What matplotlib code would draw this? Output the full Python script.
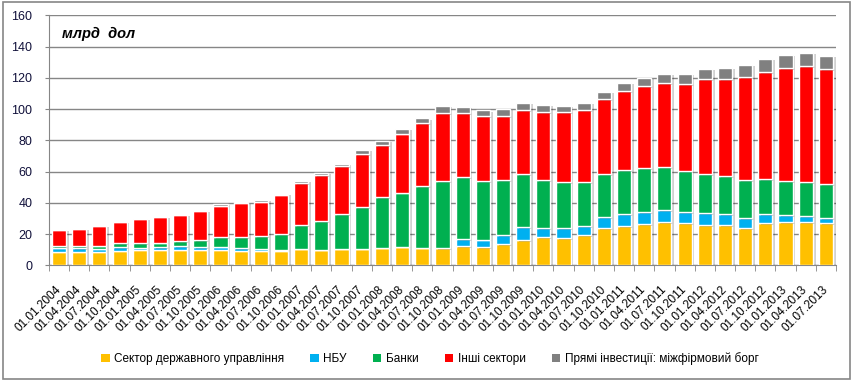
import numpy as np
import matplotlib.pyplot as plt
import matplotlib.patheffects as pe
from matplotlib.patches import Rectangle

plt.rcParams['font.family'] = ['Liberation Sans', 'DejaVu Sans']

COLOR_GOV = '#ffc000'
COLOR_NBU = '#00b0f0'
COLOR_BANKS = '#00b050'
COLOR_OTHER = '#ff0000'
COLOR_FDI = '#808080'
COLOR_GRID = '#868686'

dates = [f'01.{m}.{y}' for y in range(2004, 2014) for m in ('01', '04', '07', '10')][:39]

gov = [8.7, 8.7, 8.7, 9.4, 10.0, 10.0, 10.0, 10.0, 10.0, 9.4, 9.4, 9.4, 10.7, 10.0, 10.7, 10.7,
       11.3, 11.9, 11.3, 10.9, 12.2, 11.5, 13.4, 16.0, 17.9, 17.3, 19.2, 23.7, 25.0, 26.2, 27.5,
       26.9, 25.6, 25.6, 23.7, 26.9, 27.5, 27.5, 26.9]
nbu = [2.4, 2.2, 2.0, 2.1, 1.3, 1.5, 2.2, 1.5, 1.7, 1.5, 1.3, 0.6, 0, 0, 0, 0,
       0, 0, 0, 0, 4.4, 4.7, 5.8, 8.3, 5.8, 6.4, 5.8, 7.0, 7.6, 7.7, 7.7,
       7.0, 7.7, 7.0, 6.4, 5.7, 4.5, 3.9, 3.2]
banks = [1.1, 1.3, 1.9, 2.6, 2.8, 3.0, 3.2, 4.5, 6.2, 7.0, 7.9, 9.8, 14.9, 18.2, 21.9, 26.4,
         32.2, 34.6, 39.3, 42.9, 39.7, 37.6, 35.2, 33.9, 30.7, 29.4, 28.1, 27.5, 28.2, 28.2, 27.5,
         26.3, 24.9, 24.4, 24.3, 22.4, 21.8, 21.7, 21.7]
other = [10.6, 11.3, 12.8, 13.8, 15.8, 16.6, 17.0, 19.0, 20.3, 22.2, 22.1, 25.2, 26.9, 29.4, 30.8, 33.9,
         33.3, 37.8, 40.3, 43.4, 41.0, 41.6, 41.0, 41.0, 43.5, 44.8, 46.1, 48.0, 50.6, 52.5, 53.8,
         55.6, 60.8, 62.0, 65.9, 68.5, 72.3, 74.3, 73.6]
fdi = [0, 0, 0, 0, 0, 0, 0, 0, 1.1, 0.3, 1.1, 0.9, 1.7, 1.7, 1.5, 3.0,
       3.0, 3.2, 3.2, 4.9, 4.2, 3.8, 4.9, 4.9, 4.9, 4.3, 4.9, 4.9, 5.5, 5.5, 6.2,
       6.9, 6.9, 7.5, 8.1, 8.8, 8.7, 8.7, 8.8]

series = [
    ('Сектор державного управління', gov, COLOR_GOV),
    ('НБУ', nbu, COLOR_NBU),
    ('Банки', banks, COLOR_BANKS),
    ('Інші сектори', other, COLOR_OTHER),
    ('Прямі інвестиції: міжфірмовий борг', fdi, COLOR_FDI),
]

fig = plt.figure(figsize=(8.53, 3.81), dpi=100)
ax = fig.add_axes([0.0574, 0.3037, 0.9226, 0.6561])

x = np.arange(len(dates))
bottom = np.zeros(len(dates))
shadow = [pe.SimplePatchShadow(offset=(2, -1), shadow_rgbFace='black', alpha=0.18), pe.Normal()]
handles = []
for name, vals, color in series:
    vals = np.array(vals)
    bars = ax.bar(x, vals, 0.7, bottom=bottom, color=color, edgecolor='white', linewidth=1.0,
                  label=name, zorder=3)
    for b in bars:
        b.set_path_effects(shadow)
    handles.append(Rectangle((0, 0), 1, 1, facecolor=color, edgecolor='none'))
    bottom += vals

ax.set_xlim(-0.5, len(dates) - 0.5)
ax.set_ylim(0, 160)
ax.set_yticks(np.arange(0, 161, 20))
ax.grid(axis='y', color=COLOR_GRID, linewidth=1, zorder=0)
ax.set_axisbelow(True)
for s in ['top', 'right']:
    ax.spines[s].set_visible(False)
ax.spines['left'].set_color(COLOR_GRID)
ax.spines['bottom'].set_color(COLOR_GRID)
ax.tick_params(axis='y', length=3, color=COLOR_GRID, labelsize=9, labelcolor='#10103a', pad=9)

ax.set_xticks(x)
ax.set_xticklabels(dates, rotation=45, ha='right', va='center', rotation_mode='anchor', fontsize=8.5)
ax.tick_params(axis='x', which='major', length=0, pad=16)
ax.set_xticks(np.arange(-0.5, len(dates), 1), minor=True)
ax.tick_params(axis='x', which='minor', length=4, color=COLOR_GRID)

ax.text(0.017, 0.925, 'млрд  дол', transform=ax.transAxes, fontsize=10.5, fontweight='bold',
        fontstyle='italic', ha='left', va='center')

fig.legend(handles, [s[0] for s in series], loc='center', bbox_to_anchor=(0.504, 0.058), ncol=5,
           frameon=False, fontsize=8.5, handlelength=0.7, handleheight=0.7, handletextpad=0.4,
           columnspacing=2.2)

fig.patches.append(Rectangle((0.003, 0.006), 0.994, 0.988, transform=fig.transFigure, fill=False,
                             edgecolor=COLOR_GRID, linewidth=1.2))

fig.savefig('out.png', dpi=100)
